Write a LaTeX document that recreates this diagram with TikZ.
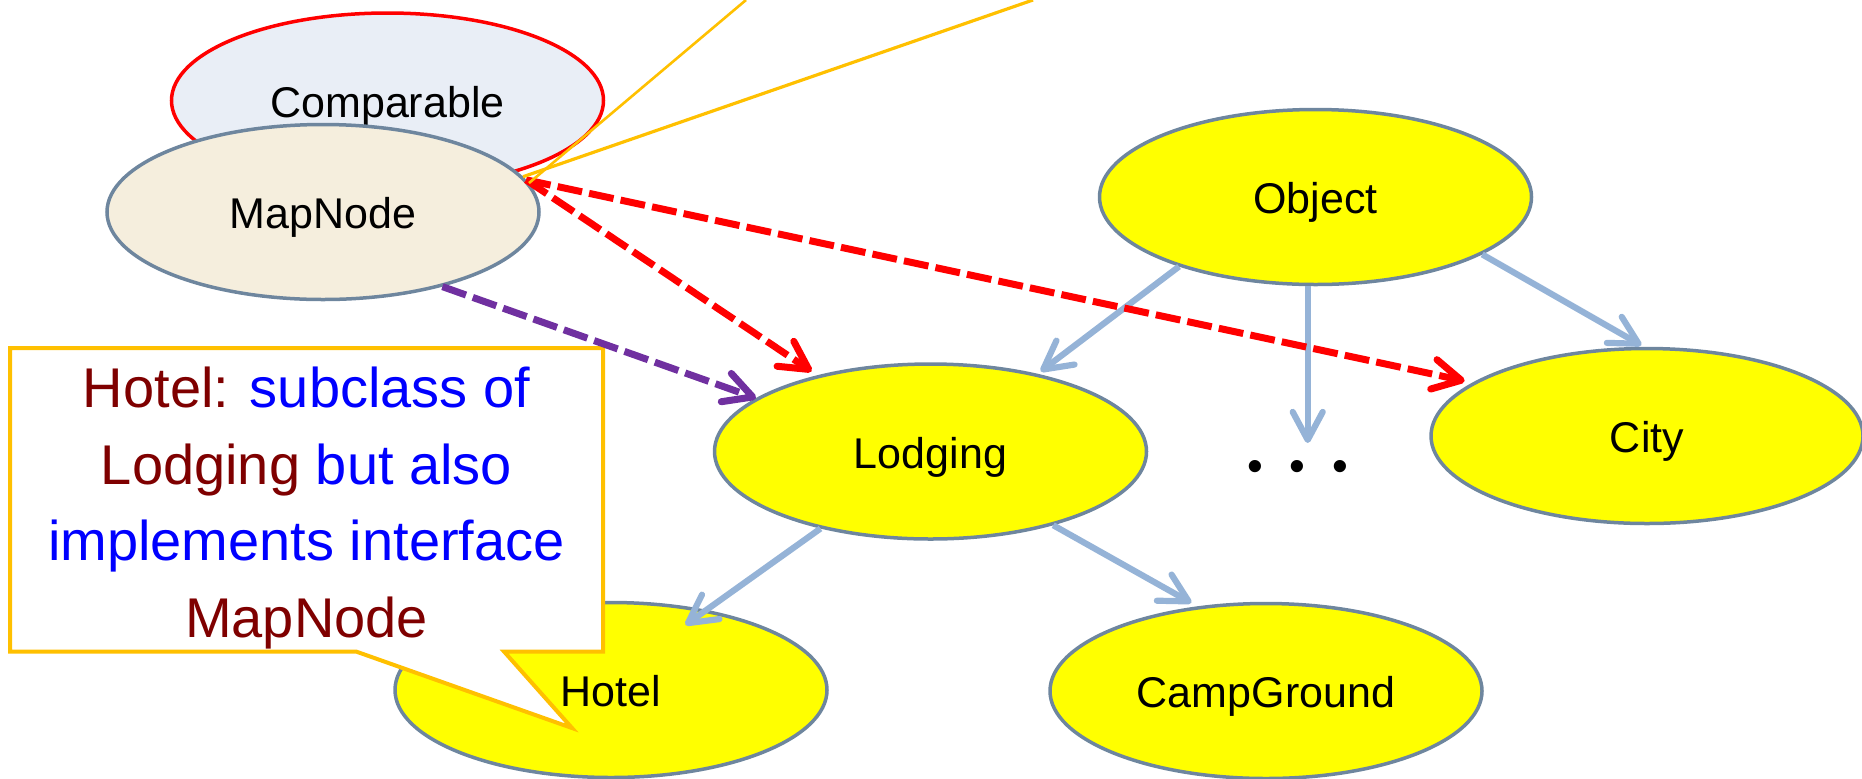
\documentclass[tikz,border=0pt]{standalone}
\usepackage{fontspec}
\setmainfont{Liberation Sans}
\usetikzlibrary{shapes.geometric,arrows.meta}
\definecolor{ellborder}{HTML}{6E869E}
\definecolor{ellyellow}{HTML}{FFFF00}
\definecolor{cmpfill}{HTML}{E9EEF6}
\definecolor{mapfill}{HTML}{F5EEDD}
\definecolor{steel}{HTML}{95B3D7}
\definecolor{ored}{HTML}{FF0000}
\definecolor{opurple}{HTML}{7030A0}
\definecolor{ogold}{HTML}{FFC000}
\definecolor{maroon}{HTML}{7F0000}
\definecolor{textblue}{HTML}{0000FF}
\begin{document}
\begin{tikzpicture}[x=0.5pt,y=-0.5pt,
  ell/.style={ellipse, draw=ellborder, line width=1.75pt, minimum width=216pt,
    minimum height=87.5pt, inner sep=0pt, font=\fontsize{21.5}{24}\selectfont,
    text height=16.5pt, text depth=0pt},
  yell/.style={ell, fill=ellyellow},
  tip/.style={-{Straight Barb[length=14pt,width=15pt,round]}},
  inherit/.style={tip, draw=steel, line width=3.1pt},
  impl/.style={tip, line width=3.5pt, dash pattern=on 12.5pt off 3.6pt},
  assoc/.style={draw=ogold},
  callout/.style={draw=ogold, fill=white, line width=2pt, line join=miter},
]
\useasboundingbox (0,0) rectangle (1862,778);

% class nodes
\node[ell, fill=cmpfill, draw=ored] (comparable) at (387.5,100.5) {Comparable};
\node[ell, fill=mapfill] (mapnode) at (323,212) {MapNode};
\node[yell] (object) at (1315.5,197) {Object};
\node[yell] (lodging) at (930.5,451.5) {Lodging};
\node[yell] (city) at (1647,436) {City};
\node[yell] (hotel) at (611,690) {Hotel};
\node[yell] (camp) at (1266,691) {CampGround};
\node[font=\fontsize{22.5}{24}\selectfont, anchor=base, inner sep=0pt] (dots)
  at (1297.5,481) {\textbullet\hspace{13.4pt}\textbullet\hspace{13.4pt}\textbullet};

% callout
\draw[callout] (10,348) -- (603,348) -- (603,651.5) -- (504,651.5) -- (572,728)
  -- (356,651.5) -- (10,651.5) -- cycle;
\node[font=\fontsize{28}{38.35}\selectfont, align=center, inner sep=0pt] (note)
  at (306.5,508) {\textcolor{maroon}{Hotel:} \textcolor{textblue}{subclass of}\\
  \textcolor{maroon}{Lodging} \textcolor{textblue}{but also}\\
  \textcolor{textblue}{implements interface}\\
  \textcolor{maroon}{MapNode}};

% inheritance arrows
\coordinate (dotsarrow) at (1308,443);
\draw[inherit, shorten >=2pt] (object.207) -- (lodging.36.7);
\draw[inherit] (object.265.5) -- (object.265.5 |- dotsarrow);
\draw[inherit, shorten >=1.5pt] (object.341.8) -- (city.92);
\draw[inherit, shorten >=-13pt] (lodging.215) -- (hotel.40.7);
\draw[inherit, shorten >=3.5pt] (lodging.329.8) -- (camp.129.3);

% implements arrows
\draw[impl, draw=ored, shorten >=3.5pt] (mapnode.9) -- (lodging.146.9);
\draw[impl, draw=ored, shorten >=4pt] (mapnode.9) -- (city.163.2);
\draw[impl, draw=opurple] (mapnode.328.7) -- (lodging.163.3);

% association lines leaving the picture
\coordinate (ytop1) at (746,0);
\coordinate (ytop2) at (1033,0);
\draw[assoc, line width=1.3pt] (mapnode.8) -- (ytop1);
\draw[assoc, line width=1.6pt] (mapnode.10) -- (ytop2);
\end{tikzpicture}
\end{document}
